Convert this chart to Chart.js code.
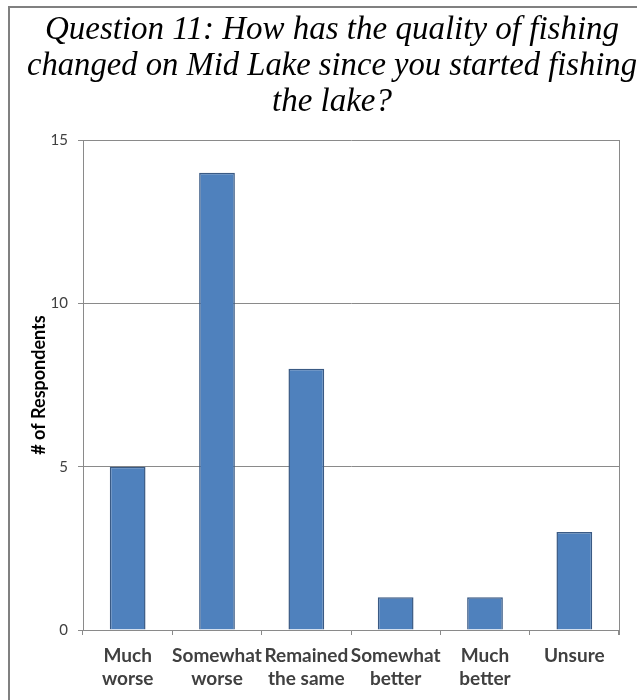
<!DOCTYPE html>
<html>
<head>
<meta charset="utf-8">
<script src="https://cdn.jsdelivr.net/npm/chart.js@4"></script>
<style>
  html, body { margin: 0; padding: 0; background: #fff; }
  #wrap { position: relative; width: 637px; height: 700px; }
</style>
</head>
<body>
<div id="wrap"><canvas id="chart"></canvas></div>
<script>
// Survey answers for question 11
const categories = [
  ['Much', 'worse'],
  ['Somewhat', 'worse'],
  ['Remained', 'the same'],
  ['Somewhat', 'better'],
  ['Much', 'better'],
  ['Unsure', '']
];
const respondents = [5, 14, 8, 1, 1, 3];
const yTicks = [0, 5, 10, 15];

const titleLines = [
  'Question 11: How has the quality of fishing',
  'changed on Mid Lake since you started fishing',
  'the lake?'
];

const GRID = '#8a8a8a';
const LABEL = '#404040';
const SANS = 'Lato, "Liberation Sans", sans-serif';

// page frame plus right edge of the plot box
const framePlugin = {
  id: 'frame',
  afterDraw(chart) {
    const ctx = chart.ctx;
    const a = chart.chartArea;
    ctx.save();
    ctx.fillStyle = '#808080';
    ctx.fillRect(8, 6, 2, 694);
    ctx.fillRect(8, 6, 629, 2);
    ctx.strokeStyle = GRID;
    ctx.lineWidth = 1;
    ctx.beginPath();
    ctx.moveTo(Math.round(a.right) + 0.5, a.top);
    ctx.lineTo(Math.round(a.right) + 0.5, a.bottom + 5);
    ctx.stroke();
    ctx.restore();
  }
};

new Chart(document.getElementById('chart'), {
  type: 'bar',
  data: {
    labels: categories,
    datasets: [{
      data: respondents,
      backgroundColor: '#4f81bd',
      borderColor: '#3a5a84',
      borderWidth: 1.5,
      barPercentage: 0.4,
      categoryPercentage: 1
    }]
  },
  options: {
    responsive: true,
    maintainAspectRatio: false,
    animation: false,
    layout: { padding: { top: 0, left: 27, right: 0, bottom: 0 } },
    plugins: {
      legend: { display: false },
      tooltip: { enabled: false },
      title: {
        display: true,
        text: titleLines,
        color: '#000',
        font: { family: '"Liberation Serif", "Times New Roman", serif', style: 'italic', weight: 'normal', size: 33, lineHeight: '36px' },
        padding: { top: 12, bottom: 20 }
      }
    },
    scales: {
      x: {
        grid: { display: true, drawOnChartArea: false, drawTicks: true, tickLength: 5, offset: true, color: GRID },
        border: { display: true, color: GRID },
        ticks: {
          autoSkip: false,
          maxRotation: 0,
          minRotation: 0,
          padding: 9,
          color: LABEL,
          font: { family: SANS, weight: 'bold', size: 19, lineHeight: '23px' }
        },
        afterFit(scale) { scale.height = 70; }
      },
      y: {
        min: 0,
        max: 15,
        afterBuildTicks(scale) { scale.ticks = yTicks.map(v => ({ value: v })); },
        grid: { color: GRID, tickLength: 5 },
        border: { display: true, color: GRID },
        ticks: {
          padding: 10,
          color: LABEL,
          font: { family: SANS, size: 15 }
        },
        title: {
          display: true,
          text: '# of Respondents',
          color: '#000',
          font: { family: SANS, weight: 'bold', size: 18, lineHeight: 1.2 },
          padding: { top: 1, bottom: 0 }
        },
        afterFit(scale) { scale.width = 56; }
      },
      // empty gutter on the right so the plot ends short of the edge
      gutter: {
        type: 'linear',
        position: 'right',
        display: true,
        grid: { display: false, drawTicks: false },
        border: { display: false },
        ticks: { display: false },
        afterFit(scale) { scale.width = 18; }
      }
    }
  },
  plugins: [framePlugin]
});
</script>
</body>
</html>
